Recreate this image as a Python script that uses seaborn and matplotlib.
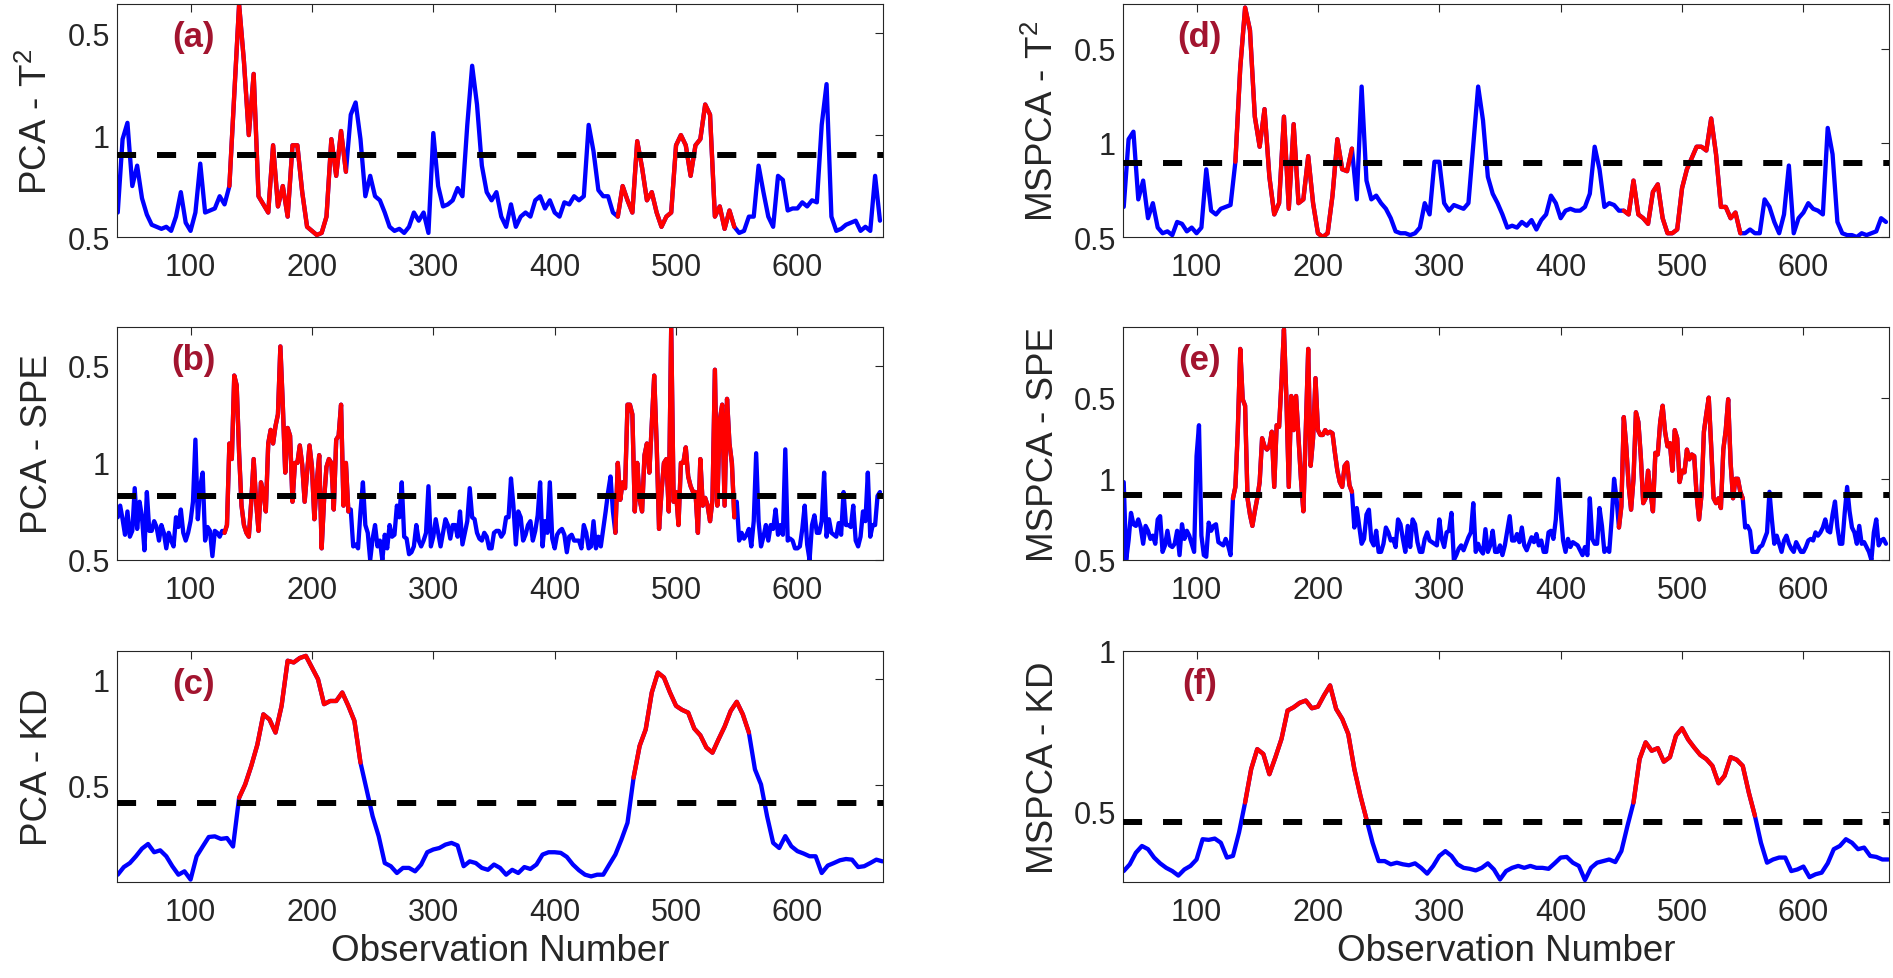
import numpy as np
import pandas as pd
import seaborn as sns
import matplotlib.pyplot as plt

sns.set_theme(style="white")
plt.rcParams['font.family'] = ['Liberation Sans', 'DejaVu Sans']
plt.rcParams['mathtext.fontset'] = 'custom'
plt.rcParams['mathtext.rm'] = 'Liberation Sans'
plt.rcParams['mathtext.it'] = 'Liberation Sans:italic'

# observation grids: SPE every 2 samples, T2 every 4, KD every 5
obs_dense = np.arange(40, 669, 2)
obs_fine = np.arange(40, 669, 4)
obs_smooth = np.arange(40, 671, 5)

# values are log10 of each statistic
pca_t2 = [
    0.62, 0.98, 1.06, 0.75, 0.85, 0.69, 0.61, 0.56, 0.55, 0.54,
    0.55, 0.53, 0.60, 0.72, 0.57, 0.53, 0.62, 0.86, 0.62, 0.63,
    0.64, 0.70, 0.66, 0.75, 1.20, 1.64, 1.36, 1.00, 1.30, 0.70,
    0.66, 0.62, 0.95, 0.65, 0.75, 0.60, 0.95, 0.95, 0.72, 0.55,
    0.53, 0.51, 0.52, 0.60, 0.98, 0.80, 1.02, 0.82, 1.10, 1.16,
    0.98, 0.70, 0.80, 0.70, 0.68, 0.62, 0.55, 0.53, 0.54, 0.52,
    0.55, 0.62, 0.58, 0.62, 0.52, 1.01, 0.75, 0.65, 0.66, 0.68,
    0.74, 0.70, 1.05, 1.34, 1.15, 0.85, 0.72, 0.68, 0.72, 0.60,
    0.55, 0.66, 0.55, 0.60, 0.62, 0.60, 0.68, 0.70, 0.64, 0.68,
    0.62, 0.60, 0.67, 0.66, 0.70, 0.68, 0.70, 1.05, 0.92, 0.73,
    0.70, 0.70, 0.62, 0.60, 0.75, 0.68, 0.62, 0.97, 0.84, 0.68,
    0.72, 0.62, 0.55, 0.60, 0.62, 0.95, 1.00, 0.95, 0.80, 0.95,
    0.98, 1.15, 1.10, 0.60, 0.65, 0.54, 0.63, 0.55, 0.52, 0.53,
    0.60, 0.60, 0.85, 0.72, 0.60, 0.55, 0.80, 0.78, 0.63, 0.64,
    0.64, 0.67, 0.65, 0.68, 0.67, 1.05, 1.25, 0.60, 0.53, 0.54,
    0.56, 0.57, 0.58, 0.53, 0.55, 0.53, 0.80, 0.58,
]
pca_spe = [
    0.72, 0.78, 0.71, 0.63, 0.75, 0.62, 0.65, 0.87, 0.66, 0.80,
    0.72, 0.55, 0.85, 0.65, 0.65, 0.70, 0.67, 0.60, 0.68, 0.64,
    0.56, 0.64, 0.60, 0.57, 0.72, 0.67, 0.76, 0.64, 0.60, 0.64,
    0.70, 0.80, 1.12, 0.71, 0.88, 0.95, 0.60, 0.67, 0.65, 0.52,
    0.65, 0.64, 0.62, 0.65, 0.64, 0.68, 1.10, 1.02, 1.45, 1.40,
    1.05, 0.78, 0.68, 0.64, 0.62, 0.80, 1.02, 0.80, 0.65, 0.90,
    0.85, 0.75, 1.10, 1.17, 1.10, 1.19, 1.25, 1.60, 1.30, 0.95,
    1.18, 1.14, 0.80, 1.00, 1.00, 1.09, 0.99, 0.80, 0.95, 1.09,
    0.98, 0.71, 0.90, 1.04, 0.56, 0.81, 0.98, 1.02, 1.00, 0.76,
    1.12, 1.14, 1.30, 0.78, 1.00, 0.75, 0.76, 0.57, 0.58, 0.56,
    0.75, 0.90, 0.68, 0.64, 0.50, 0.61, 0.68, 0.57, 0.60, 0.50,
    0.63, 0.56, 0.68, 0.62, 0.63, 0.78, 0.72, 0.90, 0.62, 0.61,
    0.53, 0.54, 0.57, 0.68, 0.60, 0.57, 0.60, 0.64, 0.88, 0.57,
    0.62, 0.71, 0.64, 0.57, 0.64, 0.71, 0.68, 0.61, 0.68, 0.68,
    0.62, 0.75, 0.58, 0.64, 0.70, 0.87, 0.72, 0.71, 0.64, 0.61,
    0.60, 0.64, 0.62, 0.56, 0.56, 0.64, 0.65, 0.65, 0.62, 0.64,
    0.72, 0.72, 0.92, 0.78, 0.58, 0.75, 0.72, 0.60, 0.63, 0.68,
    0.70, 0.60, 0.65, 0.73, 0.90, 0.57, 0.70, 0.64, 0.90, 0.61,
    0.56, 0.63, 0.65, 0.66, 0.63, 0.54, 0.62, 0.63, 0.60, 0.60,
    0.60, 0.56, 0.68, 0.64, 0.56, 0.57, 0.70, 0.56, 0.62, 0.57,
    0.66, 0.75, 0.85, 0.93, 0.75, 0.64, 1.00, 0.81, 0.90, 0.87,
    1.30, 1.30, 1.25, 0.75, 1.00, 0.81, 0.75, 1.04, 1.10, 0.95,
    1.20, 1.45, 1.10, 0.66, 0.85, 1.00, 1.02, 0.75, 1.70, 0.80,
    0.85, 0.68, 1.00, 1.00, 1.08, 0.93, 0.88, 0.85, 0.85, 0.64,
    1.02, 0.78, 0.82, 0.78, 0.70, 0.81, 1.48, 0.78, 1.22, 1.30,
    0.78, 1.33, 1.10, 1.00, 0.72, 0.80, 0.60, 0.64, 0.61, 0.63,
    0.66, 0.57, 0.70, 1.05, 0.70, 0.57, 0.62, 0.68, 0.60, 0.68,
    0.66, 0.76, 0.63, 0.68, 0.63, 1.07, 0.60, 0.61, 0.60, 0.56,
    0.56, 0.57, 0.66, 0.78, 0.58, 0.50, 0.68, 0.73, 0.64, 0.64,
    0.70, 0.95, 0.62, 0.71, 0.64, 0.63, 0.62, 0.69, 0.63, 0.85,
    0.68, 0.68, 0.67, 0.78, 0.60, 0.57, 0.62, 0.75, 0.70, 0.95,
    0.62, 0.68, 0.68, 0.83, 0.85,
]
pca_kd = [
    0.077, 0.113, 0.132, 0.164, 0.200, 0.222, 0.183, 0.192, 0.164, 0.117,
    0.077, 0.093, 0.054, 0.164, 0.210, 0.255, 0.258, 0.246, 0.250, 0.210,
    0.440, 0.503, 0.590, 0.690, 0.834, 0.810, 0.748, 0.874, 1.087, 1.079,
    1.100, 1.110, 1.055, 1.000, 0.882, 0.897, 0.897, 0.937, 0.874, 0.803,
    0.606, 0.480, 0.353, 0.259, 0.132, 0.117, 0.085, 0.109, 0.109, 0.093,
    0.125, 0.183, 0.196, 0.203, 0.219, 0.227, 0.215, 0.117, 0.140, 0.132,
    0.109, 0.100, 0.125, 0.109, 0.077, 0.100, 0.085, 0.113, 0.104, 0.125,
    0.172, 0.183, 0.183, 0.180, 0.161, 0.125, 0.098, 0.077, 0.069, 0.077,
    0.077, 0.125, 0.172, 0.243, 0.322, 0.535, 0.685, 0.763, 0.937, 1.031,
    1.008, 0.937, 0.874, 0.855, 0.842, 0.767, 0.735, 0.677, 0.653, 0.716,
    0.776, 0.850, 0.893, 0.834, 0.748, 0.574, 0.503, 0.353, 0.227, 0.203,
    0.259, 0.211, 0.188, 0.177, 0.164, 0.164, 0.085, 0.120, 0.132, 0.145,
    0.151, 0.148, 0.113, 0.117, 0.132, 0.148, 0.140,
]
mspca_t2 = [
    0.66, 1.02, 1.06, 0.70, 0.80, 0.60, 0.68, 0.55, 0.52, 0.53,
    0.51, 0.58, 0.57, 0.53, 0.55, 0.52, 0.55, 0.86, 0.64, 0.62,
    0.65, 0.66, 0.67, 0.90, 1.40, 1.72, 1.60, 1.14, 0.98, 1.18,
    0.82, 0.62, 0.68, 1.14, 0.65, 1.10, 0.68, 0.70, 0.93, 0.68,
    0.52, 0.50, 0.52, 0.72, 1.02, 0.86, 0.85, 0.97, 0.70, 1.30,
    0.80, 0.70, 0.72, 0.68, 0.65, 0.60, 0.53, 0.52, 0.52, 0.51,
    0.52, 0.55, 0.68, 0.62, 0.90, 0.90, 0.68, 0.64, 0.67, 0.66,
    0.65, 0.68, 0.99, 1.30, 1.12, 0.82, 0.73, 0.68, 0.62, 0.55,
    0.56, 0.55, 0.58, 0.56, 0.59, 0.54, 0.59, 0.62, 0.72, 0.68,
    0.60, 0.64, 0.65, 0.64, 0.64, 0.66, 0.73, 0.98, 0.86, 0.66,
    0.68, 0.67, 0.64, 0.64, 0.62, 0.80, 0.62, 0.60, 0.57, 0.74,
    0.78, 0.60, 0.52, 0.52, 0.54, 0.76, 0.86, 0.92, 0.98, 0.98,
    0.96, 1.13, 0.94, 0.66, 0.66, 0.60, 0.63, 0.52, 0.52, 0.54,
    0.52, 0.52, 0.70, 0.66, 0.58, 0.52, 0.62, 0.88, 0.52, 0.60,
    0.63, 0.68, 0.65, 0.64, 0.62, 1.08, 0.94, 0.58, 0.52, 0.51,
    0.51, 0.50, 0.52, 0.51, 0.52, 0.53, 0.60, 0.58,
]
mspca_spe = [
    0.98, 0.50, 0.62, 0.79, 0.72, 0.71, 0.75, 0.70, 0.60, 0.71,
    0.68, 0.63, 0.65, 0.60, 0.75, 0.77, 0.55, 0.59, 0.68, 0.59,
    0.58, 0.60, 0.68, 0.53, 0.72, 0.63, 0.68, 0.65, 0.60, 0.55,
    1.14, 1.33, 0.65, 0.53, 0.52, 0.73, 0.68, 0.71, 0.72, 0.61,
    0.60, 0.59, 0.63, 0.59, 0.53, 0.88, 0.95, 1.30, 1.80, 1.49,
    1.45, 0.88, 0.78, 0.71, 0.80, 0.88, 0.98, 1.25, 1.20, 1.18,
    1.20, 1.29, 0.95, 1.33, 1.32, 1.60, 1.92, 1.50, 0.95, 1.51,
    1.30, 1.51, 1.25, 1.00, 0.80, 1.30, 1.80, 1.08, 1.25, 1.62,
    1.30, 1.27, 1.27, 1.30, 1.28, 1.29, 1.28, 1.16, 1.05, 0.98,
    0.95, 1.08, 1.10, 0.96, 0.92, 0.70, 0.82, 0.71, 0.60, 0.63,
    0.78, 0.81, 0.62, 0.59, 0.68, 0.55, 0.55, 0.60, 0.70, 0.67,
    0.62, 0.63, 0.58, 0.75, 0.72, 0.63, 0.55, 0.71, 0.58, 0.75,
    0.72, 0.61, 0.55, 0.55, 0.63, 0.67, 0.62, 0.61, 0.60, 0.59,
    0.75, 0.63, 0.58, 0.67, 0.68, 0.79, 0.50, 0.53, 0.57, 0.59,
    0.56, 0.60, 0.64, 0.67, 0.85, 0.55, 0.60, 0.56, 0.54, 0.69,
    0.55, 0.59, 0.68, 0.55, 0.55, 0.59, 0.53, 0.59, 0.68, 0.77,
    0.62, 0.62, 0.66, 0.61, 0.70, 0.59, 0.56, 0.60, 0.64, 0.61,
    0.66, 0.59, 0.62, 0.55, 0.55, 0.67, 0.68, 0.63, 0.75, 1.00,
    0.80, 0.62, 0.55, 0.63, 0.58, 0.61, 0.60, 0.59, 0.56, 0.53,
    0.58, 0.53, 0.88, 0.63, 0.60, 0.60, 0.82, 0.71, 0.55, 0.57,
    0.55, 0.75, 1.00, 0.88, 0.70, 0.83, 1.38, 1.20, 0.96, 0.81,
    1.00, 1.41, 1.35, 1.14, 0.85, 0.88, 1.05, 0.92, 0.80, 1.16,
    1.15, 1.35, 1.45, 1.29, 1.20, 1.22, 1.05, 1.30, 1.25, 0.98,
    1.05, 1.04, 1.18, 1.12, 1.15, 1.14, 0.90, 0.75, 0.90, 1.29,
    1.40, 1.50, 1.20, 0.88, 0.85, 0.88, 0.82, 1.18, 1.30, 1.49,
    1.10, 0.88, 1.00, 1.00, 0.92, 0.88, 0.70, 0.71, 0.68, 0.55,
    0.55, 0.55, 0.58, 0.59, 0.63, 0.67, 0.92, 0.75, 0.60, 0.65,
    0.60, 0.55, 0.62, 0.65, 0.60, 0.57, 0.55, 0.61, 0.58, 0.55,
    0.55, 0.58, 0.62, 0.63, 0.62, 0.67, 0.65, 0.67, 0.70, 0.75,
    0.68, 0.67, 0.78, 0.86, 0.70, 0.60, 0.60, 0.79, 0.95, 0.80,
    0.70, 0.67, 0.60, 0.71, 0.60, 0.61, 0.58, 0.55, 0.50, 0.67,
    0.75, 0.59, 0.62, 0.63, 0.60,
]
mspca_kd = [
    0.316, 0.337, 0.373, 0.394, 0.384, 0.358, 0.340, 0.326, 0.316, 0.302,
    0.321, 0.332, 0.352, 0.415, 0.413, 0.417, 0.404, 0.358, 0.363, 0.436,
    0.529, 0.633, 0.695, 0.680, 0.617, 0.670, 0.727, 0.815, 0.825, 0.839,
    0.846, 0.822, 0.827, 0.862, 0.893, 0.820, 0.789, 0.742, 0.633, 0.550,
    0.477, 0.404, 0.347, 0.347, 0.337, 0.342, 0.337, 0.334, 0.340, 0.326,
    0.308, 0.332, 0.363, 0.378, 0.363, 0.337, 0.326, 0.323, 0.318, 0.326,
    0.340, 0.321, 0.290, 0.316, 0.326, 0.332, 0.326, 0.332, 0.326, 0.326,
    0.323, 0.340, 0.358, 0.360, 0.342, 0.332, 0.288, 0.326, 0.342, 0.347,
    0.352, 0.344, 0.378, 0.456, 0.529, 0.664, 0.716, 0.690, 0.698, 0.656,
    0.670, 0.737, 0.760, 0.725, 0.700, 0.677, 0.664, 0.643, 0.589, 0.612,
    0.670, 0.662, 0.643, 0.560, 0.488, 0.404, 0.342, 0.352, 0.358, 0.358,
    0.316, 0.321, 0.330, 0.297, 0.306, 0.311, 0.340, 0.384, 0.394, 0.415,
    0.404, 0.384, 0.389, 0.363, 0.360, 0.352, 0.352,
]

# control limits and fault windows (observation ranges drawn in red)
limits = {'a': 0.90, 'b': 0.83, 'c': 0.415, 'd': 0.895, 'e': 0.90, 'f': 0.467}
faults = {
    'a': [(130, 230), (450, 551)],
    'b': [(128, 230), (449, 549)],
    'c': [(138, 240), (462, 562)],
    'd': [(130, 229), (450, 549)],
    'e': [(129, 229), (448, 550)],
    'f': [(138, 240), (457, 560)],
}
ylabels = {'a': 'PCA - T$^{2}$', 'b': 'PCA - SPE', 'c': 'PCA - KD',
           'd': 'MSPCA - T$^{2}$', 'e': 'MSPCA - SPE', 'f': 'MSPCA - KD'}
xtick_vals = [100, 200, 300, 400, 500, 600]

BLUE = '#0000FF'
RED = '#FF0000'
TAG = '#A2142F'
INK = '#262626'
LW = 3.1

fig = plt.figure(figsize=(18.93, 9.79), dpi=100)

# left / bottom / width / height in figure fraction
col_x = [117 / 1893, 1123 / 1893]
col_w = 766 / 1893
row_y = [741 / 979, 418 / 979, 96 / 979]
row_h = [233 / 979, 233 / 979, 231 / 979]

panels = [
    ('a', 0, 0, obs_fine, pca_t2, (0.5, 1.643), [0.5, 1.0, 1.5]),
    ('b', 0, 1, obs_dense, pca_spe, (0.5, 1.70), [0.5, 1.0, 1.5]),
    ('c', 0, 2, obs_smooth, pca_kd, (0.0425, 1.133), [0.5, 1.0]),
    ('d', 1, 0, obs_fine, mspca_t2, (0.5, 1.739), [0.5, 1.0, 1.5]),
    ('e', 1, 1, obs_dense, mspca_spe, (0.5, 1.935), [0.5, 1.0, 1.5]),
    ('f', 1, 2, obs_smooth, mspca_kd, (0.282, 1.0), [0.5, 1.0]),
]

for key, col, row, obs, vals, ylim, yt in panels:
    ax = fig.add_axes([col_x[col], row_y[row], col_w, row_h[row]])
    df = pd.DataFrame({'obs': obs, 'stat': vals})

    sns.lineplot(data=df, x='obs', y='stat', ax=ax, color=BLUE, linewidth=LW,
                 estimator=None, sort=False)
    for lo, hi in faults[key]:
        part = df[(df['obs'] >= lo) & (df['obs'] <= hi)]
        sns.lineplot(data=part, x='obs', y='stat', ax=ax, color=RED, linewidth=LW,
                     estimator=None, sort=False)

    ax.axhline(limits[key], color='black', linewidth=4.3, linestyle='--',
               dashes=(3.2, 3.5), zorder=5)

    ax.set_xlim(39.4, 670.5)
    ax.set_ylim(*ylim)
    ax.set_xticks(xtick_vals)
    ax.set_yticks(yt)
    # tick text exactly as printed on the original axes
    if len(yt) == 3:
        ax.set_yticklabels(['0.5', '1', '0.5'])
    else:
        ax.set_yticklabels(['0.5', '1'])

    ax.tick_params(axis='both', direction='in', length=6, width=0.8,
                   top=True, right=True, color=INK, labelcolor=INK, labelsize=22)
    ax.tick_params(axis='x', pad=11)
    ax.tick_params(axis='y', pad=5)
    for s in ax.spines.values():
        s.set_color(INK)
        s.set_linewidth(0.8)

    ax.set_ylabel(ylabels[key], fontsize=26.5, color=INK, labelpad=9)
    if row == 2:
        ax.set_xlabel('Observation Number', fontsize=26.5, color=INK, labelpad=4)
    else:
        ax.set_xlabel('')

    ax.text(0.1, 0.86, '(' + key + ')', transform=ax.transAxes, fontsize=25,
            fontweight='bold', color=TAG, ha='center', va='center')

fig.savefig('out.png', dpi=100)
